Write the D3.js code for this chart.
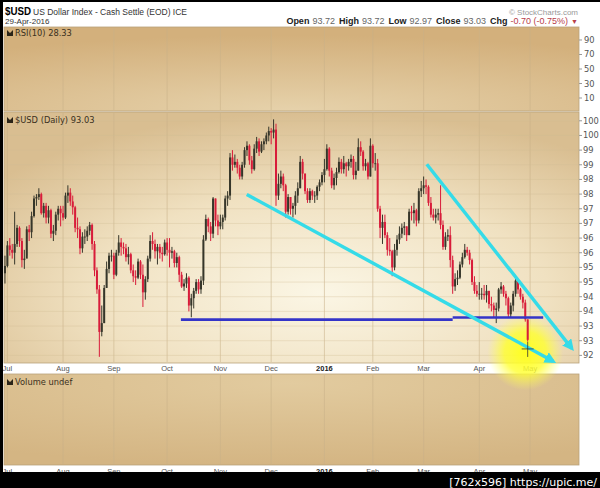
<!DOCTYPE html>
<html>
<head>
<meta charset="utf-8">
<script src="https://cdn.jsdelivr.net/npm/d3@7"></script>
<style>
html, body { margin: 0; padding: 0; background: #fff; }
svg { display: block; font-family: "Liberation Sans", Arial, sans-serif; }
</style>
</head>
<body>
<svg id="chart" width="600" height="488"></svg>
<script>
var width = 600, height = 488;

// daily bars as [high, low, close]; open is taken as the previous close
var firstOpen = 95.3;
var jun15 = [[95.9,94.95,95.55]];
var jul15 = [[96.4,95.5,96.25],[96.5,95.9,96.1],[96.3,95.8,96.0],[97.4,95.6,96.3],[96.95,96.2,96.85],
  [96.9,96.2,96.4],[96.5,95.5,95.75],[96.1,95.45,95.8],[96.9,95.9,96.8],[96.95,96.4,96.7],
  [97.4,96.5,97.25],[97.95,97.2,97.85],[98.0,97.6,97.9],[98.2,97.8,98.0],[98.05,97.3,97.35],
  [97.7,97.2,97.6],[97.7,97.0,97.2],[97.6,97.0,97.45],[97.5,96.5,96.65],[96.95,96.4,96.75],
  [97.4,96.6,97.3],[97.6,97.1,97.5],[97.6,96.9,97.35]];
var aug15 = [[97.6,97.1,97.2],[98.05,97.15,97.95],[98.3,97.7,98.05],[98.2,97.6,97.75],[97.95,97.3,97.55],
  [97.6,96.7,96.85],[97.2,96.5,96.8],[96.9,95.95,96.15],[96.7,96.0,96.55],[96.8,96.3,96.55],
  [96.9,96.4,96.75],[97.05,96.6,96.95],[97.0,96.1,96.3],[96.4,95.2,95.4],[95.5,94.6,94.75],
  [94.9,92.45,93.3],[94.2,93.15,93.6],[94.9,93.6,94.8],[95.7,94.8,95.45],[96.0,95.3,95.9],
  [96.1,95.7,95.9]];
var sep15 = [[96.0,95.1,95.25],[96.1,95.2,96.0],[96.6,95.9,96.35],[96.5,95.9,96.2],[96.35,95.95,96.15],
  [96.3,95.7,95.85],[96.2,95.6,95.95],[96.0,95.3,95.4],[95.6,95.0,95.2],[95.4,94.9,95.15],
  [95.8,95.1,95.7],[95.75,95.1,95.25],[95.6,94.15,94.65],[95.2,94.4,95.1],[95.9,95.0,95.8],
  [96.6,95.7,96.4],[96.7,96.1,96.3],[96.45,95.8,96.05],[96.3,95.6,96.2],[96.3,95.8,96.0],
  [96.2,95.7,95.95],[96.45,95.9,96.35]];
var oct15 = [[96.5,95.9,96.1],[96.5,95.5,96.0],[96.2,95.8,96.05],[96.1,95.5,95.65],[96.0,95.5,95.85],
  [95.9,95.0,95.25],[95.35,94.8,94.85],[95.1,94.7,94.95],[95.3,94.8,95.15],[95.2,94.0,94.2],
  [94.6,93.8,94.45],[94.8,94.1,94.7],[95.1,94.6,95.0],[95.1,94.6,94.75],[95.2,94.6,95.05],
  [96.6,94.9,96.45],[97.3,96.4,97.15],[97.2,96.7,96.9],[97.05,96.4,96.65],[97.9,96.5,97.85],
  [97.85,96.9,97.1],[97.3,96.6,96.9]];
var nov15 = [[97.3,96.8,97.05],[97.3,96.8,97.2],[97.95,97.1,97.85],[98.1,97.6,97.95],[99.4,97.8,99.25],
  [99.5,98.8,99.0],[99.35,98.9,99.1],[99.2,98.7,98.9],[99.0,98.5,98.6],[99.1,98.5,99.0],
  [99.6,98.9,99.5],[99.8,99.3,99.65],[99.7,99.0,99.15],[99.3,98.7,98.85],[99.7,98.8,99.55],
  [99.95,99.4,99.8],[99.9,99.3,99.45],[99.8,99.4,99.7],[99.9,99.5,99.8],[100.1,99.7,100.0],
  [100.3,99.8,100.15]];
var dec15 = [[100.25,99.7,100.1],[100.55,99.9,100.2],[100.4,97.6,97.95],[98.7,97.8,98.35],[98.8,98.2,98.6],
  [98.7,98.1,98.3],[98.35,97.2,97.4],[98.0,97.3,97.9],[97.9,97.3,97.5],[97.7,97.2,97.6],
  [98.1,97.3,97.95],[98.4,97.7,98.2],[99.3,98.2,99.1],[99.2,98.5,98.7],[98.7,98.0,98.1],
  [98.2,97.7,97.8],[98.2,97.7,98.1],[98.15,97.8,97.95],[98.1,97.7,97.95],[98.3,97.8,98.25],
  [98.5,98.1,98.4],[98.75,98.3,98.65]];
var jan16 = [[99.2,98.4,98.85],[99.7,98.8,99.55],[99.6,98.6,98.8],[98.9,98.2,98.3],[98.7,98.15,98.55],
  [98.9,98.3,98.75],[99.25,98.7,99.1],[99.2,98.7,98.85],[99.3,98.7,99.05],[99.1,98.6,98.95],
  [99.2,98.8,99.1],[99.35,98.9,99.2],[99.3,98.5,98.65],[99.1,98.5,98.8],[99.9,98.8,99.6],
  [99.8,99.3,99.45],[99.5,98.8,98.95],[99.2,98.8,99.05],[99.1,98.5,98.6],[99.9,98.6,99.65]];
var feb16 = [[99.7,98.9,99.05],[99.4,98.8,99.05],[99.2,97.4,97.5],[97.6,96.5,96.85],[97.3,96.3,97.05],
  [97.3,96.5,96.6],[96.7,95.9,96.1],[96.5,95.9,96.05],[96.1,95.2,95.5],[96.3,95.4,96.1],
  [96.6,95.9,96.45],[96.9,96.3,96.65],[97.0,96.5,96.85],[97.05,96.6,96.9],[96.9,96.4,96.6],
  [97.5,96.6,97.4],[97.6,97.1,97.35],[97.7,97.0,97.45],[97.5,96.9,97.1],[98.2,97.0,98.1],
  [98.45,97.9,98.2]];
var mar16 = [[98.6,98.0,98.3],[98.5,98.0,98.25],[98.3,97.6,97.7],[97.9,97.2,97.3],[97.5,97.1,97.2],
  [97.5,97.0,97.3],[97.5,97.1,97.35],[98.3,96.8,96.95],[97.1,96.1,96.2],[96.7,96.1,96.55],
  [96.8,96.4,96.6],[96.9,95.5,95.75],[95.9,94.6,94.85],[95.3,94.7,95.1],[95.4,94.9,95.15],
  [95.7,95.1,95.6],[96.0,95.5,95.85],[96.3,95.8,96.1],[96.2,95.9,96.0],[96.1,95.6,95.75],
  [95.8,94.9,95.0],[95.2,94.6,94.7],[94.9,94.5,94.6]];
var apr16 = [[95.0,94.4,94.6],[94.8,94.4,94.6],[94.9,94.4,94.55],[94.9,94.3,94.7],[94.7,94.1,94.25],
  [94.5,94.0,94.2],[94.3,93.8,94.05],[94.3,93.6,94.1],[94.8,94.0,94.75],[95.0,94.6,94.85],
  [94.9,94.5,94.6],[94.7,94.2,94.45],[94.5,93.8,93.9],[94.3,93.8,94.2],[94.7,94.0,94.6],
  [95.15,94.5,95.05],[95.0,94.6,94.75],[94.8,94.4,94.5],[94.6,94.1,94.3],[94.4,93.65,93.73],
  [93.72,92.97,93.03]];

var months = [jul15, aug15, sep15, oct15, nov15, dec15, jan16, feb16, mar16, apr16];
var monthNames = ["Jul","Aug","Sep","Oct","Nov","Dec","2016","Feb","Mar","Apr","May"];
var priceTicks = [100.5,100,99.5,99,98.5,98,97.5,97,96.5,96,95.5,95,94.5,94,93.5,93,92.5];
var rsiTicks = [90,70,50,30,10];
var quoteLabels = ["Open","High","Low","Close","Chg"];
var quoteValues = ["93.72","93.72","92.97","93.03","-0.70 (-0.75%)"];

// annotations, in [trading day index, price]
var trendLines = [[[98.9, 97.99], [225.5, 92.30]], [[173.3, 99.02], [233.2, 92.74]]];
var supportLine = [[71.7, 184, 93.72], [184, 221.4, 93.79]];
var highlight = [214, 92.6];
var marker = [215, 92.72];

var plotL = 4, plotR = 579;
var rsiTop = 27, rsiBot = 111, pTop = 112, pBot = 363, vTop = 374, vBot = 465;

var x = d3.scaleLinear().domain([-1.4, 236.2]).range([plotL, plotR]);
var y = d3.scaleLinear().domain([92.24, 100.8]).range([pBot, pTop]);
var yRsi = d3.scaleLinear().domain([-7.9, 107.9]).range([rsiBot, rsiTop]);

// bars
var bars = [];
var idx = -jun15.length, prevClose = firstOpen;
[jun15].concat(months).forEach(function(m) {
  m.forEach(function(d) {
    bars.push({i: idx, o: prevClose, h: d[0], l: d[1], c: d[2]});
    prevClose = d[2];
    idx++;
  });
});

var monthStarts = [], acc = 0;
months.forEach(function(m) { monthStarts.push(acc); acc += m.length; });
monthStarts.push(acc);

var svg = d3.select("#chart");
var defs = svg.append("defs");

function radial(id, cx, cy, r, stops) {
  var g = defs.append("radialGradient").attr("id", id)
    .attr("cx", cx).attr("cy", cy).attr("r", r);
  stops.forEach(function(s) {
    g.append("stop").attr("offset", s[0]).attr("stop-color", s[1]).attr("stop-opacity", s[2] == null ? 1 : s[2]);
  });
}
radial("gRsi", "50%", "100%", "90%", [[0, "#e6d2ab"], [1, "#d3b07c"]]);
radial("gPrice", "55%", "72%", "72%", [[0, "#fbf6e5"], [0.55, "#f0e1c1"], [1, "#d9be91"]]);
radial("gVol", "50%", "10%", "90%", [[0, "#e2cb9f"], [1, "#d4b583"]]);
radial("gGlow", "50%", "50%", "50%", [[0, "#ffff20", 1], [0.55, "#ffff30", 0.8], [1, "#ffff60", 0]]);

var cyan = "#35dbe8";
defs.append("marker").attr("id", "arrow")
  .attr("viewBox", "0 0 10 10").attr("refX", 7).attr("refY", 5)
  .attr("markerWidth", 3.4).attr("markerHeight", 3.4).attr("orient", "auto")
  .append("path").attr("d", "M0,0L10,5L0,10z").attr("fill", cyan);

svg.append("rect").attr("width", width).attr("height", height).attr("fill", "#fff");

// panels
[[rsiTop, rsiBot, "gRsi"], [pTop, pBot, "gPrice"], [vTop, vBot, "gVol"]].forEach(function(p) {
  svg.append("rect")
    .attr("x", plotL).attr("y", p[0])
    .attr("width", plotR - plotL).attr("height", p[1] - p[0])
    .attr("fill", "url(#" + p[2] + ")")
    .attr("stroke", "#b9a27a").attr("stroke-width", 0.8);
});

// month grid lines
[[rsiTop, rsiBot], [pTop, pBot], [vTop, vBot]].forEach(function(p) {
  svg.append("g").selectAll("line")
    .data(monthStarts)
    .enter().append("line")
      .attr("x1", function(d) { return x(d); })
      .attr("x2", function(d) { return x(d); })
      .attr("y1", p[0] + 1).attr("y2", p[1] - 1)
      .attr("stroke", "#c9b089").attr("stroke-opacity", 0.55).attr("stroke-width", 1);
});

svg.append("g").selectAll("line")
  .data(priceTicks)
  .enter().append("line")
    .attr("x1", plotL).attr("x2", plotR)
    .attr("y1", function(d) { return y(d); })
    .attr("y2", function(d) { return y(d); })
    .attr("stroke", "#d2bd96").attr("stroke-opacity", 0.35);

// right axes (the narrow margin only shows the whole part of each label)
var pAxis = svg.append("g").attr("font-family", "DejaVu Sans, sans-serif").attr("font-size", 8.3).attr("fill", "#555");
priceTicks.forEach(function(t) {
  pAxis.append("line").attr("x1", plotR).attr("x2", plotR + 3).attr("y1", y(t)).attr("y2", y(t)).attr("stroke", "#999");
  pAxis.append("text").attr("x", 583).attr("y", y(t) + 3).text(Math.floor(t));
});
rsiTicks.forEach(function(t) {
  pAxis.append("line").attr("x1", plotR).attr("x2", plotR + 3).attr("y1", yRsi(t)).attr("y2", yRsi(t)).attr("stroke", "#999");
  pAxis.append("text").attr("x", 584).attr("y", yRsi(t) + 3).text(t);
});

// month labels (two rows)
[371, 473.5].forEach(function(ty) {
  svg.append("g").selectAll("text")
    .data(monthStarts)
    .enter().append("text")
      .attr("x", function(d) { return x(d); })
      .attr("y", ty)
      .attr("text-anchor", "middle")
      .attr("font-size", 7.5)
      .attr("font-weight", function(d, k) { return monthNames[k] === "2016" ? "bold" : "normal"; })
      .attr("fill", function(d, k) { return monthNames[k] === "2016" ? "#222" : "#555"; })
      .text(function(d, k) { return monthNames[k]; });
});

// header
svg.append("text").attr("x", 5).attr("y", 15).attr("font-size", 11.5).attr("font-weight", "bold")
  .attr("textLength", 26).attr("lengthAdjust", "spacingAndGlyphs").text("$USD");
svg.append("text").attr("x", 33).attr("y", 14.5).attr("font-size", 8.5).attr("fill", "#333")
  .text("US Dollar Index - Cash Settle (EOD) ICE");
svg.append("text").attr("x", 5).attr("y", 23.5).attr("font-size", 8).attr("fill", "#333").text("29-Apr-2016");
svg.append("text").attr("x", 578).attr("y", 14.5).attr("text-anchor", "end").attr("font-size", 8)
  .attr("fill", "#9a9a9a").text("\u00a9 StockCharts.com");

var q = svg.append("text").attr("x", 578).attr("y", 23.5).attr("text-anchor", "end").attr("font-size", 9);
quoteLabels.forEach(function(l, k) {
  q.append("tspan").attr("dx", k ? 4 : 0).attr("font-weight", "bold").attr("fill", "#222").text(l);
  q.append("tspan").attr("dx", 3).attr("fill", k === 4 ? "#b8404a" : "#666").text(quoteValues[k]);
});
q.append("tspan").attr("dx", 3).attr("fill", "#b8404a").attr("font-size", 7).text("\u25bc");

// panel titles
function panelTitle(ty, label) {
  svg.append("path")
    .attr("d", "M" + 7 + "," + ty + "l0,-6l3,3l3,-3l0,6z")
    .attr("fill", "#2a2418");
  svg.append("text").attr("x", 15).attr("y", ty)
    .attr("font-family", "DejaVu Sans, sans-serif").attr("font-size", 8.3)
    .attr("fill", "#3a3020").text(label);
}
panelTitle(36, "RSI(10) 28.33");
panelTitle(123, "$USD (Daily) 93.03");
panelTitle(385, "Volume undef");

// yellow highlight
svg.append("circle")
  .attr("cx", x(highlight[0])).attr("cy", y(highlight[1])).attr("r", 38)
  .attr("fill", "url(#gGlow)");

// candles
var candle = svg.append("g").selectAll("g")
  .data(bars)
  .enter().append("g")
    .attr("fill", function(d) { return d.c < d.o ? "#d81c3a" : "#36362a"; })
    .attr("stroke", function(d) { return d.c < d.o ? "#d81c3a" : "#36362a"; });

candle.append("line")
  .attr("x1", function(d) { return x(d.i); })
  .attr("x2", function(d) { return x(d.i); })
  .attr("y1", function(d) { return y(d.h); })
  .attr("y2", function(d) { return y(d.l); })
  .attr("stroke-width", 1);

candle.append("rect")
  .attr("x", function(d) { return x(d.i) - 1; })
  .attr("width", 2)
  .attr("y", function(d) { return y(Math.max(d.o, d.c)); })
  .attr("height", function(d) { return Math.max(0.8, Math.abs(y(d.o) - y(d.c))); })
  .attr("stroke", "none");

// support line
svg.append("g").selectAll("line")
  .data(supportLine)
  .enter().append("line")
    .attr("x1", function(d) { return x(d[0]); })
    .attr("x2", function(d) { return x(d[1]); })
    .attr("y1", function(d) { return y(d[2]); })
    .attr("y2", function(d) { return y(d[2]); })
    .attr("stroke", "#3434c8").attr("stroke-width", 2.6);

// trend lines with arrows
svg.append("g").selectAll("line")
  .data(trendLines)
  .enter().append("line")
    .attr("x1", function(d) { return x(d[0][0]); })
    .attr("y1", function(d) { return y(d[0][1]); })
    .attr("x2", function(d) { return x(d[1][0]); })
    .attr("y2", function(d) { return y(d[1][1]); })
    .attr("stroke", cyan).attr("stroke-width", 3.4)
    .attr("marker-end", "url(#arrow)");

// cross marker
var mx = x(marker[0]), my = y(marker[1]);
svg.append("path")
  .attr("d", "M" + (mx - 6) + "," + my + "H" + (mx + 6) + "M" + mx + "," + (my - 7) + "V" + (my + 8))
  .attr("stroke", "#333").attr("stroke-width", 0.8);

// frame and footer
svg.append("rect").attr("x", 0).attr("y", 0).attr("width", 3).attr("height", height).attr("fill", "#000");
svg.append("rect").attr("x", 0).attr("y", 0).attr("width", width).attr("height", 2).attr("fill", "#000");
svg.append("rect").attr("x", 0).attr("y", 472).attr("width", width).attr("height", height - 472).attr("fill", "#000");
svg.append("text").attr("x", 597).attr("y", 486).attr("text-anchor", "end")
  .attr("font-family", "DejaVu Sans, sans-serif").attr("font-size", 11).attr("fill", "#fff")
  .text("[762x596] https://upic.me/");
</script>
</body>
</html>
